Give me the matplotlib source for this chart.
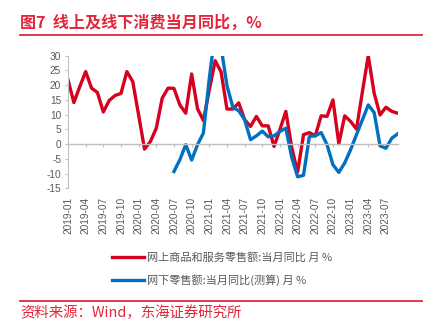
import matplotlib
matplotlib.use("Agg")
import matplotlib.pyplot as plt
import numpy as np
import pandas as pd

months = pd.date_range("2019-01", "2023-09", freq="MS").strftime("%Y-%m").tolist()

online = [21.8, 14.1, 19.5, 24.6, 19.0, 17.5, 10.9, 14.8, 16.5, 17.2, 24.6, 21.2,
          9.8, -1.7, 0.9, 5.4, 15.6, 19.0, 18.9, 13.3, 10.5, 23.8, 12.0, 8.0,
          18.4, 28.3, 24.5, 11.9, 11.9, 14.0, 8.3, 6.0, 9.4, 6.2, 6.2, -0.8,
          5.0, 11.1, -1.1, -9.5, 3.2, 3.9, 2.8, 9.6, 9.4, 15.0, 0.1, 9.6,
          7.7, 5.1, 17.7, 30.0, 17.3, 9.9, 12.5, 11.1, 10.5]

offline = [np.nan] * 18 + [-9.3, -5.3, -0.2, -5.4, -0.2, 3.8,
           22.3, 38.0, 33.0, 19.8, 12.5, 11.3, 8.3, 1.5, 2.8, 4.4, 2.5, 2.8,
           4.3, 5.4, -4.5, -11.1, -10.6, 2.6, 2.8, 3.9, -0.2, -7.0, -9.6, -6.4,
           -1.9, 3.2, 8.2, 13.3, 10.7, -0.6, -1.4, 2.0, 3.5]

labels = ["网上商品和服务零售额:当月同比 月 %", "网下零售额:当月同比(测算) 月 %"]
yticks = [30, 25, 20, 15, 10, 5, 0, -5, -10, -15]

red = "#D7001F"
blue = "#0070C0"
rule = "#E3263B"
gray = "#595959"
axis_gray = "#BFBFBF"
cjk = ["Noto Sans CJK SC", "DejaVu Sans"]

fig = plt.figure(figsize=(4.3, 3.26), dpi=100)
ax = fig.add_axes([68 / 430, 1 - 188.3 / 326, (397.7 - 68) / 430, (188.3 - 55.7) / 326])

x = np.arange(len(months))
l1, = ax.plot(x, online, color=red, lw=2.4)
l2, = ax.plot(x, offline, color=blue, lw=2.4)

ax.set_xlim(0, len(months) - 1)
ax.set_ylim(-15, 30)
ax.set_yticks(yticks)
ax.set_yticklabels([str(v) for v in yticks], family="Liberation Sans", fontsize=7.3, color=gray)
ax.tick_params(axis="y", length=2.5, width=0.8, color=axis_gray, pad=2.5)

for s in ["top", "right"]:
    ax.spines[s].set_visible(False)
ax.spines["left"].set_color(axis_gray)
ax.spines["left"].set_linewidth(0.8)
ax.spines["bottom"].set_position(("data", 0))
ax.spines["bottom"].set_color(axis_gray)
ax.spines["bottom"].set_linewidth(1.0)

tick_pos = x[::3]
ax.set_xticks(tick_pos)
ax.set_xticklabels([])
ax.tick_params(axis="x", length=2.5, width=0.8, color=axis_gray)

sec = ax.secondary_xaxis(0)
sec.set_xticks(tick_pos)
sec.set_xticklabels([months[i] for i in tick_pos], rotation=90,
                    family="Liberation Sans", fontsize=7.3, color=gray)
sec.tick_params(length=0, pad=6)
sec.spines["bottom"].set_visible(False)

fig.legend([l1, l2], labels, loc="center left", bbox_to_anchor=(111.7 / 430, 1 - 269 / 326),
           frameon=False, prop={"family": cjk, "size": 8}, labelcolor=gray,
           handlelength=2.9, handletextpad=0.3, labelspacing=0.95,
           borderpad=0, borderaxespad=0)

fig.text(20 / 430, 1 - 22.5 / 326, "图7  线上及线下消费当月同比，%", family=cjk,
         fontsize=11.6, fontweight="bold", color=rule, va="center", ha="left")
fig.add_artist(plt.Line2D([20 / 430, 422 / 430], [1 - 35 / 326, 1 - 35 / 326],
                          color=rule, lw=1.3, transform=fig.transFigure))
fig.add_artist(plt.Line2D([20 / 430, 422 / 430], [1 - 301 / 326, 1 - 301 / 326],
                          color=rule, lw=1.3, transform=fig.transFigure))
fig.text(20 / 430, 1 - 313 / 326, "资料来源：Wind，东海证券研究所", family=cjk,
         fontsize=10.4, color=rule, va="center", ha="left")

fig.savefig("out.png", dpi=100)
